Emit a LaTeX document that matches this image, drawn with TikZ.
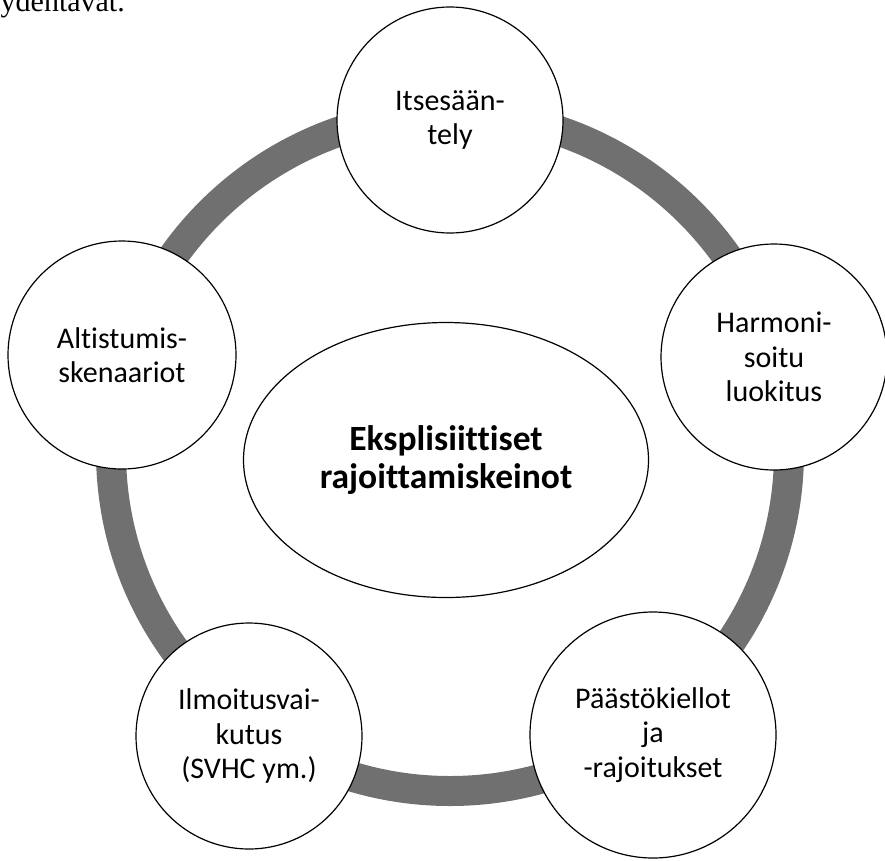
\documentclass[tikz,border=0pt]{standalone}
\usepackage{fontspec}
\setmainfont{Carlito}[Ligatures=NoCommon]
\newfontfamily\serifpart{Liberation Serif}
\usetikzlibrary{shapes.geometric}
\definecolor{ringgray}{RGB}{112,112,112}
\tikzset{
  bub/.style={circle, draw=black, line width=1.2pt, fill=white, inner sep=0pt,
              align=center, font=\fontsize{30}{34.5}\selectfont},
  hub/.style={ellipse, draw=black, line width=1.2pt, fill=white, inner sep=0pt,
              align=center, font=\bfseries\fontsize{35.5}{38}\selectfont},
  ring/.style={draw=ringgray, line width=30pt}
}
\begin{document}
\begin{tikzpicture}[x=1pt,y=-1pt]
\useasboundingbox (0,0) rectangle (885,860);
\clip (0,0) rectangle (885,860);
\fill[white] (0,0) rectangle (885,860);
% partially visible caption line at the top
\node[anchor=base east, inner sep=0pt, font=\serifpart\fontsize{30}{34}\selectfont] (cap) at (125,11.5) {täydentävät.};
% ring
\coordinate (ctr) at (450,452);
\draw[ring] (ctr) circle[radius=339];
% central ellipse
\node[hub, minimum width=405pt, minimum height=275pt] (hubn) at (446,460) {Eksplisiittiset\\rajoittamiskeinot};
% surrounding circles
\node[bub, minimum size=226pt] (c1) at (450,120) {Itsesään-\\tely};
\node[bub, minimum size=226pt] (c2) at (774,357) {Harmoni-\\soitu\\luokitus};
\node[bub, minimum size=246pt] (c3) at (653,735) {Päästökiellot\\ja\\-rajoitukset};
\node[bub, minimum size=226pt] (c4) at (249,736) {Ilmoitusvai-\\kutus\\(SVHC ym.)};
\node[bub, minimum size=228pt] (c5) at (122,355) {Altistumis-\\skenaariot};
\end{tikzpicture}
\end{document}
